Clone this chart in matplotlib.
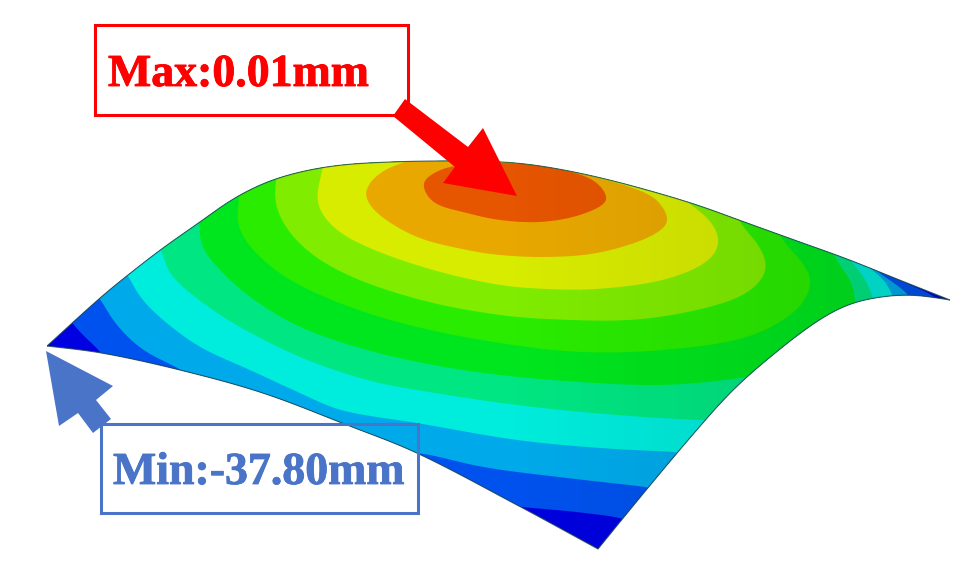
import numpy as np
import matplotlib
matplotlib.use('Agg')
import matplotlib.pyplot as plt
from matplotlib.patches import Polygon, Rectangle
import matplotlib.patheffects as pe

# all coordinates are pixels
top_edge = [(47, 346), (100, 298), (128, 275), (163, 248), (200, 222), (233, 199), (267, 182), (300, 172),
            (333, 166), (367, 163), (433, 161), (503, 162), (547, 167), (597, 177), (647, 190), (697, 205),
            (747, 223), (797, 241), (847, 259), (897, 279), (950, 300)]
right_edge = [(950, 300), (913, 295), (880, 297), (847, 305), (813, 324), (763, 363), (730, 393), (695, 432),
              (647, 489), (598, 549)]
bottom_edge = [(598, 549), (517, 505), (417, 453), (347, 425), (263, 393), (180, 370), (102, 353), (47, 346)]

band_colors = ['#0000e0', '#0052ee', '#00aaea', '#00ecdc', '#00e682', '#00e61e', '#2aec00', '#80ec00',
               '#d8ec00', '#e8a800', '#e65500']

# band boundaries, outermost first; points off the surface only close the loop
boundaries = [
    [(60, 300), (72, 323), (88, 340), (102, 353), (115, 372), (300, 480), (470, 500), (522, 507), (567, 511),
     (622, 518), (650, 525), (800, 420), (945, 306), (936, 297), (915, 287), (890, 276), (860, 262), (830, 230),
     (500, 100), (150, 200)],
    [(85, 275), (100, 298), (115, 323), (143, 350), (185, 372), (205, 390), (300, 440), (390, 452), (420, 453),
     (483, 467), (567, 478), (647, 487), (670, 490), (800, 400), (916, 306), (910, 296), (897, 285), (875, 270),
     (850, 245), (500, 100), (180, 190)],
    [(115, 250), (128, 275), (140, 297), (163, 320), (200, 347), (250, 370), (300, 393), (340, 410), (417, 423),
     (517, 440), (600, 448), (677, 452), (700, 453), (780, 400), (897, 306), (893, 296), (883, 278), (863, 263),
     (840, 225), (500, 100), (200, 170)],
    [(150, 225), (163, 252), (167, 270), (190, 293), (233, 323), (300, 357), (367, 380), (417, 390), (517, 405),
     (617, 415), (700, 420), (725, 420), (790, 400), (876, 306), (873, 297), (863, 275), (848, 258), (825, 225),
     (500, 100), (220, 160)],
    [(190, 195), (200, 220), (200, 243), (217, 267), (250, 297), (300, 327), (367, 350), (433, 365), (500, 375),
     (580, 382), (663, 385), (742, 378), (765, 372), (800, 370), (858, 315), (855, 302), (852, 282), (837, 262),
     (818, 225), (500, 100), (250, 140)],
    [(235, 165), (240, 193), (237, 223), (253, 250), (290, 280), (350, 307), (417, 327), (500, 343), (580, 352),
     (663, 350), (747, 337), (797, 310), (812, 282), (803, 263), (780, 237), (760, 200), (500, 110), (280, 130)],
    [(280, 150), (277, 175), (275, 203), (290, 233), (320, 260), (367, 283), (433, 303), (500, 315), (547, 319),
     (630, 320), (697, 310), (747, 293), (767, 270), (760, 247), (743, 227), (720, 195), (500, 120), (320, 135)],
    [(330, 145), (323, 168), (317, 203), (333, 227), (367, 247), (433, 270), (500, 285), (547, 289), (597, 289),
     (663, 280), (707, 262), (720, 243), (710, 220), (687, 202), (650, 165), (500, 130), (370, 135)],
    [(380, 173), (365, 193), (377, 213), (417, 237), (467, 250), (500, 255), (547, 257), (597, 253), (647, 238),
     (668, 222), (657, 200), (630, 187), (580, 173), (530, 158), (453, 156), (413, 160)],
    [(423, 183), (433, 202), (467, 213), (500, 220), (540, 222), (580, 215), (607, 200), (593, 180), (547, 167),
     (503, 163), (463, 165), (440, 170)],
]
boundary_sigma = [9, 9, 9, 9, 9, 9, 9, 9, 6, 5]

red_arrow = [(405, 99), (393, 116), (455, 167), (443, 183), (517, 196), (483, 128), (468, 147)]
blue_arrow = [(46, 351), (59, 426), (78, 413), (93, 433), (111, 419), (96, 400), (113, 386)]
red = '#fe0000'
blue = '#4a74c8'


def spline(p, closed):
    # hermite through the read points, tangents scaled by chord length
    if closed:
        p = np.vstack([p[-1], p, p[0], p[1]])
    else:
        p = np.vstack([2 * p[0] - p[1], p, 2 * p[-1] - p[-2]])
    h = np.hypot(*np.diff(p, axis=0).T)
    m = (p[2:] - p[:-2]) / (h[1:] + h[:-1])[:, None]
    out = []
    for i in range(len(m) - 1):
        seg = h[i + 1]
        t = np.linspace(0, 1, max(int(seg), 2), endpoint=False)[:, None]
        out.append((2 * t ** 3 - 3 * t ** 2 + 1) * p[i + 1] + (t ** 3 - 2 * t ** 2 + t) * seg * m[i]
                   + (-2 * t ** 3 + 3 * t ** 2) * p[i + 2] + (t ** 3 - t ** 2) * seg * m[i + 1])
    out = np.vstack(out)
    return np.vstack([out, out[0]]) if closed else np.vstack([out, p[-2]])


def smooth_curve(pts, closed=False, sigma=10):
    # take the kinks of the hand-read points out with a gaussian along the curve
    q = spline(np.array(pts, dtype=float), closed)
    w = np.exp(-0.5 * (np.arange(-3 * sigma, 3 * sigma + 1) / sigma) ** 2)
    w /= w.sum()
    pad = 3 * sigma
    if closed:
        padded = np.vstack([q[-pad - 1:-1], q, q[1:pad + 1]])
    else:
        # odd reflection keeps the corner points where they are
        padded = np.vstack([2 * q[0] - q[pad:0:-1], q, 2 * q[-1] - q[-2:-pad - 2:-1]])
    return np.column_stack([np.convolve(padded[:, i], w, mode='valid') for i in range(2)])


fig = plt.figure(figsize=(9.67, 5.76), dpi=100)
ax = fig.add_axes([0, 0, 1, 1])
ax.set_xlim(0, 967)
ax.set_ylim(576, 0)
ax.axis('off')

outline = np.vstack([smooth_curve(top_edge), smooth_curve(right_edge), smooth_curve(bottom_edge)])
surface = Polygon(outline, closed=True, facecolor=band_colors[0], edgecolor='none', zorder=1)
ax.add_patch(surface)

for i, b in enumerate(boundaries):
    band = Polygon(smooth_curve(b, closed=True, sigma=boundary_sigma[i]), closed=True,
                   facecolor=band_colors[i + 1], edgecolor='none', zorder=2)
    ax.add_patch(band)
    band.set_clip_path(surface)

# the right side of the surface is shaded a little darker
shade = np.zeros((1, 200, 4))
shade[0, :, 3] = np.linspace(0, 0.13, 200)
im = ax.imshow(shade, extent=(500, 950, 560, 150), aspect='auto', zorder=3)
im.set_clip_path(surface)
ax.set_xlim(0, 967)
ax.set_ylim(576, 0)

ax.add_patch(Polygon(outline, closed=True, fill=False, edgecolor='#1f4a4a', linewidth=0.8, alpha=0.8, zorder=4))

ax.add_patch(Rectangle((95, 25), 313, 90, fill=False, edgecolor=red, linewidth=2.2, zorder=5))
ax.add_patch(Rectangle((101, 424), 317, 89, fill=False, edgecolor=blue, linewidth=2.2, zorder=5))
ax.add_patch(Polygon(red_arrow, closed=True, facecolor=red, edgecolor='none', zorder=6))
ax.add_patch(Polygon(blue_arrow, closed=True, facecolor=blue, edgecolor='none', zorder=6))

t1 = ax.text(108, 86, 'Max:0.01mm', color=red, fontsize=33, fontweight='bold', family='Liberation Serif',
             ha='left', va='baseline', zorder=7)
t2 = ax.text(113, 484, 'Min:-37.80mm', color=blue, fontsize=33, fontweight='bold', family='Liberation Serif',
             ha='left', va='baseline', zorder=7)
t1.set_path_effects([pe.withStroke(linewidth=0.6, foreground=red)])
t2.set_path_effects([pe.withStroke(linewidth=0.6, foreground=blue)])

fig.savefig('out.png', dpi=100, facecolor='white')
